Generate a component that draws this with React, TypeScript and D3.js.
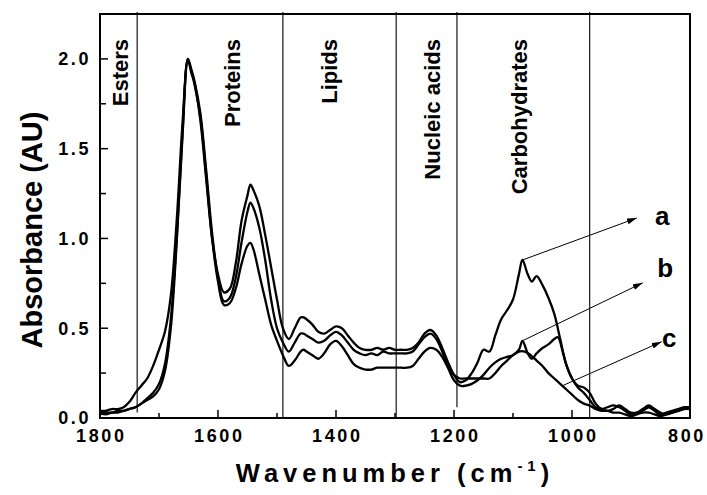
import React from "react";
import * as d3 from "d3";

// ---------- data ----------
const waveA = [1800,1790,1780,1770,1760,1750,1740,1730,1720,1710,1700,1690,1680,1670,1660,1651,1645,1640,1630,1620,1610,1600,1590,1580,1570,1560,1550,1545,1540,1530,1520,1510,1500,1490,1480,1470,1460,1455,1450,1440,1430,1420,1410,1400,1390,1380,1370,1360,1350,1340,1330,1320,1310,1300,1290,1280,1270,1260,1250,1240,1230,1220,1210,1200,1190,1180,1170,1160,1150,1140,1130,1120,1110,1100,1090,1084,1075,1068,1060,1050,1040,1030,1020,1010,1000,990,980,970,960,950,940,930,920,910,900,890,880,870,860,850,840,830,820,810,800];
const absA = [0.04,0.04,0.05,0.05,0.06,0.09,0.14,0.18,0.22,0.29,0.38,0.48,0.68,1.10,1.65,2.00,1.92,1.87,1.66,1.33,1.00,0.80,0.70,0.72,0.86,1.10,1.24,1.30,1.27,1.18,1.02,0.84,0.66,0.50,0.44,0.50,0.56,0.56,0.55,0.52,0.48,0.47,0.49,0.51,0.50,0.46,0.42,0.39,0.38,0.38,0.39,0.38,0.39,0.38,0.38,0.38,0.39,0.42,0.47,0.49,0.46,0.39,0.31,0.24,0.20,0.21,0.25,0.31,0.38,0.37,0.46,0.55,0.60,0.66,0.80,0.88,0.80,0.76,0.79,0.74,0.67,0.58,0.44,0.30,0.22,0.18,0.17,0.14,0.08,0.05,0.04,0.05,0.07,0.05,0.03,0.03,0.04,0.06,0.04,0.02,0.03,0.04,0.05,0.06,0.06];

const waveB = [1800,1790,1780,1770,1760,1750,1740,1730,1720,1710,1700,1690,1680,1670,1660,1651,1645,1640,1630,1620,1610,1600,1590,1580,1570,1560,1550,1545,1540,1530,1520,1510,1500,1490,1480,1470,1460,1455,1450,1440,1430,1420,1410,1400,1390,1380,1370,1360,1350,1340,1330,1320,1310,1300,1290,1280,1270,1260,1250,1240,1230,1220,1210,1200,1190,1180,1170,1160,1150,1140,1130,1120,1110,1100,1090,1084,1075,1068,1060,1050,1040,1030,1024,1015,1010,1000,990,980,970,960,950,940,930,920,910,900,890,880,870,860,850,840,830,820,810,800];
const absB = [0.02,0.03,0.03,0.04,0.04,0.05,0.06,0.08,0.11,0.14,0.19,0.30,0.55,1.00,1.60,2.00,1.94,1.88,1.70,1.38,1.03,0.78,0.65,0.67,0.78,0.98,1.15,1.20,1.17,1.06,0.88,0.66,0.50,0.42,0.37,0.42,0.47,0.47,0.46,0.44,0.42,0.43,0.46,0.48,0.46,0.42,0.38,0.36,0.35,0.36,0.35,0.37,0.36,0.36,0.36,0.36,0.37,0.41,0.45,0.47,0.44,0.37,0.28,0.21,0.18,0.18,0.19,0.21,0.24,0.28,0.31,0.33,0.34,0.35,0.38,0.43,0.36,0.33,0.36,0.39,0.41,0.44,0.45,0.36,0.30,0.22,0.17,0.14,0.10,0.06,0.05,0.06,0.07,0.06,0.04,0.02,0.03,0.05,0.07,0.05,0.03,0.02,0.03,0.04,0.05,0.06];

const waveC = [1800,1790,1780,1770,1760,1750,1740,1730,1720,1710,1700,1690,1680,1670,1660,1651,1645,1640,1630,1620,1610,1600,1590,1580,1570,1560,1550,1545,1540,1530,1520,1510,1500,1490,1480,1470,1460,1455,1450,1440,1430,1420,1410,1400,1390,1380,1370,1360,1350,1340,1330,1320,1310,1300,1290,1280,1270,1260,1250,1240,1230,1220,1210,1200,1190,1180,1170,1160,1150,1140,1130,1120,1110,1100,1090,1080,1070,1060,1050,1040,1030,1020,1010,1000,990,980,970,960,950,940,930,920,910,900,890,880,870,860,850,840,830,820,810,800];
const absC = [0.03,0.02,0.03,0.03,0.04,0.05,0.06,0.08,0.10,0.12,0.16,0.26,0.50,0.98,1.58,1.99,1.93,1.86,1.68,1.35,1.00,0.76,0.63,0.64,0.72,0.86,0.96,0.975,0.94,0.80,0.66,0.52,0.43,0.35,0.29,0.32,0.37,0.38,0.37,0.35,0.33,0.36,0.41,0.43,0.40,0.35,0.30,0.28,0.27,0.27,0.28,0.28,0.28,0.28,0.28,0.28,0.29,0.33,0.37,0.39,0.38,0.34,0.28,0.24,0.22,0.22,0.22,0.22,0.22,0.22,0.25,0.29,0.32,0.35,0.37,0.37,0.35,0.32,0.29,0.25,0.22,0.19,0.16,0.13,0.10,0.08,0.07,0.05,0.04,0.04,0.03,0.03,0.02,0.01,0.02,0.03,0.03,0.02,0.01,0.02,0.03,0.04,0.05,0.05];

const xMajorTicks = [1800, 1600, 1400, 1200, 1000, 800];
const xMinorTicks = [1700, 1500, 1300, 1100, 900];
const yMajorTicks = [0, 0.5, 1.0, 1.5, 2.0];
const yMinorTicks = [0.25, 0.75, 1.25, 1.75];

const regionBounds = [1737, 1490, 1298, 1195, 970];
const regionBoundEnds = [0.03, 0.0, 0.0, 0.06, 0.0];
const regionNames = ["Esters", "Proteins", "Lipids", "Nucleic acids", "Carbohydrates"];
const regionLabelWave = [1753, 1563, 1398, 1224, 1077];

const arrowNames = ["a", "b", "c"];
const arrowFrom: [number, number][] = [[1084, 0.88], [1084, 0.43], [1016, 0.18]];
const arrowTo: [number, number][] = [[890, 1.114], [880, 0.753], [848, 0.425]];
const arrowLabelAt: [number, number][] = [[847, 1.075], [842, 0.786], [835, 0.397]];

// ---------- layout ----------
const W = 707, H = 495;
const L = 100, R = 690, T = 14, B = 418;
const FONT = "'Liberation Sans', Arial, Helvetica, sans-serif";

export default function App() {
  const x = d3.scaleLinear().domain([1800, 800]).range([L, R]);
  const y = d3.scaleLinear().domain([0, 2.25]).range([B, T]);

  const line = d3
    .line<[number, number]>()
    .x((d) => x(d[0]))
    .y((d) => y(d[1]))
    .curve(d3.curveCatmullRom.alpha(0.5));

  const series = [
    d3.zip(waveA, absA) as [number, number][],
    d3.zip(waveB, absB) as [number, number][],
    d3.zip(waveC, absC) as [number, number][],
  ];

  return (
    <svg
      width={W}
      height={H}
      style={{ position: "absolute", left: 0, top: 0, background: "#fff" }}
      fontFamily={FONT}
    >
      <defs>
        <marker id="arr" viewBox="0 0 10 6" refX="10" refY="3" markerWidth="10" markerHeight="6" markerUnits="userSpaceOnUse" orient="auto">
          <path d="M0,0 L10,3 L0,6 Z" fill="#000" />
        </marker>
      </defs>
      <rect x={0} y={0} width={W} height={H} fill="#fff" />

      {/* region boundaries */}
      {regionBounds.map((w, i) => (
        <line key={"rb" + i} x1={x(w)} x2={x(w)} y1={T - 2} y2={y(regionBoundEnds[i])} stroke="#000" strokeWidth={1.1} />
      ))}

      {/* region labels */}
      {regionNames.map((n, i) => (
        <text
          key={"rn" + i}
          transform={`translate(${x(regionLabelWave[i])},${T + 25}) rotate(-90)`}
          textAnchor="end"
          fontSize={22}
          fontWeight="bold"
        >
          {n}
        </text>
      ))}

      {/* curves */}
      {series.map((s, i) => (
        <path key={"s" + i} d={line(s) || ""} fill="none" stroke="#000" strokeWidth={2.3} strokeLinejoin="round" />
      ))}

      {/* arrows */}
      {arrowNames.map((n, i) => (
        <g key={"ar" + i}>
          <line
            x1={x(arrowFrom[i][0])}
            y1={y(arrowFrom[i][1])}
            x2={x(arrowTo[i][0])}
            y2={y(arrowTo[i][1])}
            stroke="#000"
            strokeWidth={1}
            markerEnd="url(#arr)"
          />
          <text x={x(arrowLabelAt[i][0])} y={y(arrowLabelAt[i][1])} textAnchor="middle" fontSize={26} fontWeight="bold">
            {n}
          </text>
        </g>
      ))}

      {/* frame */}
      <rect x={L} y={T} width={R - L} height={B - T} fill="none" stroke="#000" strokeWidth={2} />

      {/* y ticks */}
      {yMajorTicks.map((t) => (
        <g key={"ym" + t}>
          <line x1={L} x2={L + 8} y1={y(t)} y2={y(t)} stroke="#000" strokeWidth={1.5} />
          <text x={L - 9} y={y(t)} dy={6.3} textAnchor="end" fontSize={18} fontWeight="bold" letterSpacing={2.6}>
            {t.toFixed(1)}
          </text>
        </g>
      ))}
      {yMinorTicks.map((t) => (
        <line key={"yn" + t} x1={L} x2={L + 6} y1={y(t)} y2={y(t)} stroke="#000" strokeWidth={1.5} />
      ))}

      {/* x ticks */}
      {xMajorTicks.map((t) => (
        <g key={"xm" + t}>
          <line x1={x(t)} x2={x(t)} y1={B} y2={B - 8} stroke="#000" strokeWidth={1.5} />
          <text x={Math.min(x(t) + 1.3, W - 20)} y={B + 24} textAnchor="middle" fontSize={18} fontWeight="bold" letterSpacing={2.6}>
            {String(t)}
          </text>
        </g>
      ))}
      {xMinorTicks.map((t) => (
        <line key={"xn" + t} x1={x(t)} x2={x(t)} y1={B} y2={B - 5} stroke="#000" strokeWidth={1.5} />
      ))}

      {/* axis titles */}
      <text transform={`translate(42,${(T + B) / 2 + 14}) rotate(-90)`} textAnchor="middle" fontSize={29} fontWeight="bold">
        Absorbance (AU)
      </text>
      <text x={(L + R) / 2} y={482} textAnchor="middle" fontSize={25.5} fontWeight="bold" letterSpacing={5}>
        Wavenumber (cm
        <tspan fontSize={15} dy={-11}>-1</tspan>
        <tspan dy={11}>)</tspan>
      </text>
    </svg>
  );
}
